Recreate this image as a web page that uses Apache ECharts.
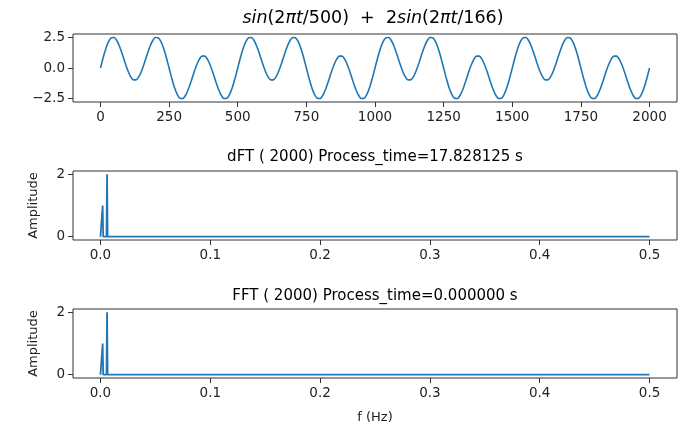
<!DOCTYPE html>
<html>
<head>
<meta charset="utf-8">
<script src="https://cdn.jsdelivr.net/npm/echarts@6/dist/echarts.min.js"></script>
<style>html,body{margin:0;padding:0;background:#fff}#c{width:683px;height:427px}</style>
</head>
<body>
<div id="c"></div>
<script>
// ---- data ----
const signalStep = 10; // t spacing of samples
const signalValues = [
0,0.862,1.618,2.178,2.478,2.490,2.226,1.734,1.095,0.407,-0.225,-0.706,-0.967,-0.967,-0.706,-0.225,0.407,1.095,1.734,2.226,2.490,2.478,2.178,1.618,0.862,
0,-0.862,-1.618,-2.178,-2.478,-2.490,-2.226,-1.734,-1.095,-0.407,0.225,0.706,0.967,0.967,0.706,0.225,-0.407,-1.095,-1.734,-2.226,-2.490,-2.478,-2.178,-1.618,-0.862,
0,0.862,1.618,2.178,2.478,2.490,2.226,1.734,1.095,0.407,-0.225,-0.706,-0.967,-0.967,-0.706,-0.225,0.407,1.095,1.734,2.226,2.490,2.478,2.178,1.618,0.862,
0,-0.862,-1.618,-2.178,-2.478,-2.490,-2.226,-1.734,-1.095,-0.407,0.225,0.706,0.967,0.967,0.706,0.225,-0.407,-1.095,-1.734,-2.226,-2.490,-2.478,-2.178,-1.618,-0.862,
0,0.862,1.618,2.178,2.478,2.490,2.226,1.734,1.095,0.407,-0.225,-0.706,-0.967,-0.967,-0.706,-0.225,0.407,1.095,1.734,2.226,2.490,2.478,2.178,1.618,0.862,
0,-0.862,-1.618,-2.178,-2.478,-2.490,-2.226,-1.734,-1.095,-0.407,0.225,0.706,0.967,0.967,0.706,0.225,-0.407,-1.095,-1.734,-2.226,-2.490,-2.478,-2.178,-1.618,-0.862,
0,0.862,1.618,2.178,2.478,2.490,2.226,1.734,1.095,0.407,-0.225,-0.706,-0.967,-0.967,-0.706,-0.225,0.407,1.095,1.734,2.226,2.490,2.478,2.178,1.618,0.862,
0,-0.862,-1.618,-2.178,-2.478,-2.490,-2.226,-1.734,-1.095,-0.407,0.225,0.706,0.967,0.967,0.706,0.225,-0.407,-1.095,-1.734,-2.226,-2.490,-2.478,-2.178,-1.618,-0.862,
0
];
const freqValues = [0, 0.0015, 0.002, 0.0025, 0.0055, 0.006, 0.0065, 0.5];
const dftAmplitudes = [0, 0, 1, 0, 0, 2, 0, 0];
const fftAmplitudes = [0, 0, 1, 0, 0, 2, 0, 0];
const timeTicks = [0, 250, 500, 750, 1000, 1250, 1500, 1750, 2000];
const signalTicks = [-2.5, 0, 2.5];
const freqTicks = [0, 0.1, 0.2, 0.3, 0.4, 0.5];
const ampTicks = [0, 2];
const titleDft = 'dFT ( 2000) Process_time=17.828125 s';
const titleFft = 'FFT ( 2000) Process_time=0.000000 s';

// ---- chart ----
const FONT = 'DejaVu Sans';
const BLUE = '#1f77b4';
const chart = echarts.init(document.getElementById('c'), null, {renderer: 'canvas'});
const sigData = signalValues.map((v, i) => [i * signalStep, v]);
const dftData = freqValues.map((f, i) => [f, dftAmplitudes[i]]);
const fftData = freqValues.map((f, i) => [f, fftAmplitudes[i]]);
const minus = s => s.replace('-', '\u2212');

function xAx(idx, min, max, ticks, fmt, name) {
  return {
    type: 'value', gridIndex: idx, min: min, max: max,
    axisLine: {show: false, onZero: false},
    splitLine: {show: false},
    axisTick: {show: true, inside: false, length: 5, customValues: ticks, lineStyle: {color: '#333', width: 1}},
    axisLabel: {customValues: ticks, formatter: fmt, margin: 8, color: '#222', fontFamily: FONT, fontSize: 13.5},
    name: name || '', nameLocation: 'middle', nameGap: 33,
    nameTextStyle: {fontFamily: FONT, fontSize: 13, color: '#222'}
  };
}
function yAx(idx, min, max, ticks, fmt, name) {
  return {
    type: 'value', gridIndex: idx, min: min, max: max,
    axisLine: {show: false, onZero: false},
    splitLine: {show: false},
    axisTick: {show: true, inside: false, length: 5, customValues: ticks, lineStyle: {color: '#333', width: 1}},
    axisLabel: {customValues: ticks, formatter: fmt, margin: 8, color: '#222', fontFamily: FONT, fontSize: 13.5},
    name: name || '', nameLocation: 'middle', nameGap: 33, nameRotate: 90,
    nameTextStyle: {fontFamily: FONT, fontSize: 13, color: '#222'}
  };
}
const gridBase = {left: 73, right: 6, show: true, borderColor: '#333', borderWidth: 1, backgroundColor: '#fff', containLabel: false};

const option = {
  animation: false,
  backgroundColor: '#fff',
  grid: [
    Object.assign({top: 34, height: 68}, gridBase),
    Object.assign({top: 171, height: 69}, gridBase),
    Object.assign({top: 309, height: 69}, gridBase)
  ],
  xAxis: [
    xAx(0, -100, 2100, timeTicks, v => String(v)),
    xAx(1, -0.025, 0.525, freqTicks, v => v.toFixed(1)),
    xAx(2, -0.025, 0.525, freqTicks, v => v.toFixed(1), 'f (Hz)')
  ],
  yAxis: [
    yAx(0, -2.78, 2.78, signalTicks, v => minus(v.toFixed(1))),
    yAx(1, -0.105, 2.105, ampTicks, v => String(v), 'Amplitude'),
    yAx(2, -0.105, 2.105, ampTicks, v => String(v), 'Amplitude')
  ],
  graphic: [
    {type: 'text', style: {
      x: 373, y: 18,
      text: '{i|sin}{n|(2}{i|\u03c0t}{n|/500)  +  2}{i|sin}{n|(2}{i|\u03c0t}{n|/166)}',
      align: 'center', verticalAlign: 'middle',
      rich: {
        i: {fontFamily: FONT, fontSize: 17.5, fontStyle: 'italic', fill: '#000'},
        n: {fontFamily: FONT, fontSize: 17.5, fill: '#000'}
      }
    }},
    {type: 'text', style: {x: 375, y: 157, text: titleDft, align: 'center', verticalAlign: 'middle', fontFamily: FONT, fontSize: 15, fill: '#000'}},
    {type: 'text', style: {x: 375, y: 296, text: titleFft, align: 'center', verticalAlign: 'middle', fontFamily: FONT, fontSize: 15, fill: '#000'}}
  ],
  series: [
    {type: 'line', xAxisIndex: 0, yAxisIndex: 0, data: sigData, showSymbol: false, smooth: 0.2,
     lineStyle: {color: BLUE, width: 1.6}},
    {type: 'line', xAxisIndex: 1, yAxisIndex: 1, data: dftData, showSymbol: false,
     lineStyle: {color: BLUE, width: 1.8}},
    {type: 'line', xAxisIndex: 2, yAxisIndex: 2, data: fftData, showSymbol: false,
     lineStyle: {color: BLUE, width: 1.8}}
  ]
};
chart.setOption(option);
</script>
</body>
</html>
